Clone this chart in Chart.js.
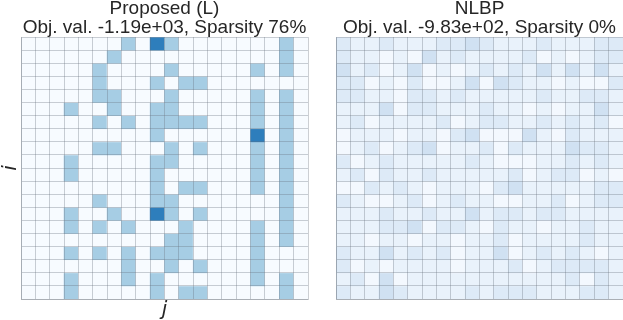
<!DOCTYPE html>
<html><head><meta charset="utf-8">
<script src="https://cdn.jsdelivr.net/npm/chart.js@4.4.1/dist/chart.umd.min.js"></script>
<style>
html,body{margin:0;padding:0;background:#fff;overflow:hidden}
canvas{position:absolute;top:0}
</style>
</head><body>
<canvas id="c1" width="318" height="320" style="left:0"></canvas>
<canvas id="c2" width="305" height="320" style="left:318px"></canvas>
<script>
// column / row indices (j, i)
const colLabels = ['0','1','2','3','4','5','6','7','8','9','10','11','12','13','14','15','16','17','18','19'];
const rowLabels = ['0','1','2','3','4','5','6','7','8','9','10','11','12','13','14','15','16','17','18','19'];

// Titles
const leftTitle = ['Proposed (L)', 'Obj. val. -1.19e+03, Sparsity 76%'];
const rightTitle = ['NLBP', 'Obj. val. -9.83e+02, Sparsity 0%'];

// Proposed (L): sparse matrix, estimated magnitudes (0, 1, 2)
const proposedL = [
  [0,0,0,0,0,0,0,1,0,2,1,0,0,0,0,0,0,0,1,0],
  [0,0,0,0,0,0,1,0,0,0,0,0,0,0,0,0,0,0,1,0],
  [0,0,0,0,0,1,0,0,0,0,1,0,0,0,0,0,1,0,1,0],
  [0,0,0,0,0,1,0,0,0,1,0,1,1,0,0,0,0,0,0,0],
  [0,0,0,0,0,1,1,0,0,0,1,0,0,0,0,0,1,0,1,0],
  [0,0,0,1,0,0,1,0,0,1,1,0,0,0,0,0,1,0,1,0],
  [0,0,0,0,0,1,0,1,0,1,1,1,1,0,0,0,1,0,1,0],
  [0,0,0,0,0,0,0,0,0,1,0,0,0,0,0,0,2,0,1,0],
  [0,0,0,0,0,1,1,0,0,0,1,0,1,0,0,0,1,0,1,0],
  [0,0,0,1,0,0,0,0,0,1,1,0,0,0,0,0,1,0,1,0],
  [0,0,0,1,0,0,0,0,0,1,0,0,0,0,0,0,1,0,1,0],
  [0,0,0,0,0,0,0,0,0,1,0,1,1,0,0,0,1,0,1,0],
  [0,0,0,0,0,1,0,0,0,1,1,0,0,0,0,0,0,0,1,0],
  [0,0,0,1,0,0,1,0,0,2,1,0,1,0,0,0,0,0,1,0],
  [0,0,0,1,0,1,0,1,0,0,0,1,0,0,0,0,1,0,1,0],
  [0,0,0,0,0,0,0,0,0,0,1,1,0,0,0,0,1,0,1,0],
  [0,0,0,1,0,1,0,1,0,1,1,1,0,0,0,0,1,0,0,0],
  [0,0,0,0,0,0,0,1,0,0,1,0,1,0,0,0,1,0,0,0],
  [0,0,0,1,0,0,0,1,0,1,0,0,0,0,0,0,1,0,1,0],
  [0,0,0,1,0,0,0,0,0,1,0,1,1,0,0,0,0,0,1,0]
];

// NLBP: dense matrix, small estimated magnitudes (0..3)
const nlbp = [
  [2,1,1,2,1,1,1,2,2,3,2,1,1,1,2,1,1,1,2,2],
  [2,1,1,0,1,0,3,1,2,1,1,1,1,2,0,1,0,1,2,2],
  [3,1,2,0,1,3,0,1,0,1,2,1,2,1,3,1,3,1,3,1],
  [2,2,0,1,0,2,0,0,1,3,0,3,2,1,1,0,1,0,0,2],
  [2,2,1,1,0,2,2,1,2,1,1,1,1,1,2,1,1,2,2,1],
  [1,1,1,3,0,2,2,1,1,1,2,1,1,0,1,0,1,1,3,1],
  [1,2,0,1,1,1,1,2,0,1,2,2,1,1,2,1,2,1,2,0],
  [0,1,1,1,0,1,1,0,2,3,0,0,0,3,1,0,2,1,1,1],
  [0,1,2,0,1,2,3,0,1,1,2,0,2,1,1,1,3,2,2,1],
  [2,0,1,2,1,1,1,1,1,2,1,0,0,0,1,1,2,1,2,1],
  [1,2,0,2,1,1,2,1,1,1,1,1,2,0,1,2,2,0,1,0],
  [0,0,2,1,2,1,0,1,1,1,0,2,3,1,1,1,1,1,2,2],
  [2,1,0,0,1,2,0,1,2,1,1,0,0,1,1,2,0,1,2,2],
  [1,1,1,2,1,1,2,1,1,3,1,2,2,1,2,2,1,1,1,1],
  [1,1,1,2,2,3,0,2,2,1,0,2,1,1,0,1,1,2,1,1],
  [1,1,0,1,1,0,1,1,0,1,1,2,0,1,1,1,1,2,1,1],
  [2,1,1,3,1,2,1,2,0,1,1,3,0,1,2,1,2,1,0,1],
  [2,0,1,0,1,1,1,1,0,1,1,1,2,0,1,2,2,2,2,1],
  [1,2,0,3,0,1,1,1,1,1,1,1,1,1,1,1,2,0,2,1],
  [2,1,1,3,2,1,1,1,1,2,1,2,2,2,1,1,1,2,2,1]
];

// Blues colormap
const BLUES = [[247,251,255],[222,235,247],[198,219,239],[158,202,225],[107,174,214],[66,146,198],[33,113,181],[8,81,156],[8,48,107]];
function blues(t){
  t = Math.max(0, Math.min(1, t));
  const p = t * (BLUES.length - 1), i = Math.min(Math.floor(p), BLUES.length - 2), f = p - i;
  const a = BLUES[i], b = BLUES[i+1];
  return 'rgb(' + a.map((v,k)=>Math.round(v + (b[k]-v)*f)).join(',') + ')';
}
const colorL = v => blues(v * 0.35);
const colorN = v => blues([0.02, 0.07, 0.13, 0.2][v]);

const gridColor = 'rgba(100,110,122,0.33)';
const textColor = '#262626';

function buildChart(id, matrix, colorFn, titleLines, withAxisTitles, padding){
  const datasets = rowLabels.map((_, r) => ({
    data: colLabels.map(() => [r, r + 1]),
    backgroundColor: matrix[r].map(colorFn),
    borderWidth: 0,
    grouped: false,
    barPercentage: 1,
    categoryPercentage: 1
  }));
  const axisFont = {family: 'DejaVu Sans', size: 20, style: 'italic', lineHeight: 1.05};
  return new Chart(document.getElementById(id), {
    type: 'bar',
    data: {labels: colLabels, datasets},
    options: {
      responsive: false, animation: false, devicePixelRatio: 1,
      layout: {padding},
      plugins: {
        legend: {display: false}, tooltip: {enabled: false},
        title: {display: true, text: titleLines, color: textColor, padding: 0, fullSize: false,
                font: {family: 'Liberation Sans', size: 19, lineHeight: 0.975, weight: 'normal'}}
      },
      scales: {
        x: {type: 'category', offset: true,
            grid: {offset: true, color: gridColor, lineWidth: 1, drawTicks: false, z: 1},
            border: {display: true, color: gridColor, z: 1},
            ticks: {display: false},
            title: {display: withAxisTitles, text: 'j', color: textColor, padding: 0, font: axisFont}},
        y: {type: 'linear', reverse: true, min: 0, max: rowLabels.length,
            grid: {color: gridColor, lineWidth: 1, drawTicks: false, z: 1},
            border: {display: true, color: gridColor, z: 1},
            ticks: {display: false, stepSize: 1, maxTicksLimit: 100},
            title: {display: withAxisTitles, text: 'i', color: textColor, padding: 0, font: axisFont}}
      }
    }
  });
}

buildChart('c1', proposedL, colorL, leftTitle, true, {left: 0, right: 10, top: 0, bottom: 0});
buildChart('c2', nlbp, colorN, rightTitle, false, {left: 18, right: 0, top: 0, bottom: 21});
</script>
</body></html>
